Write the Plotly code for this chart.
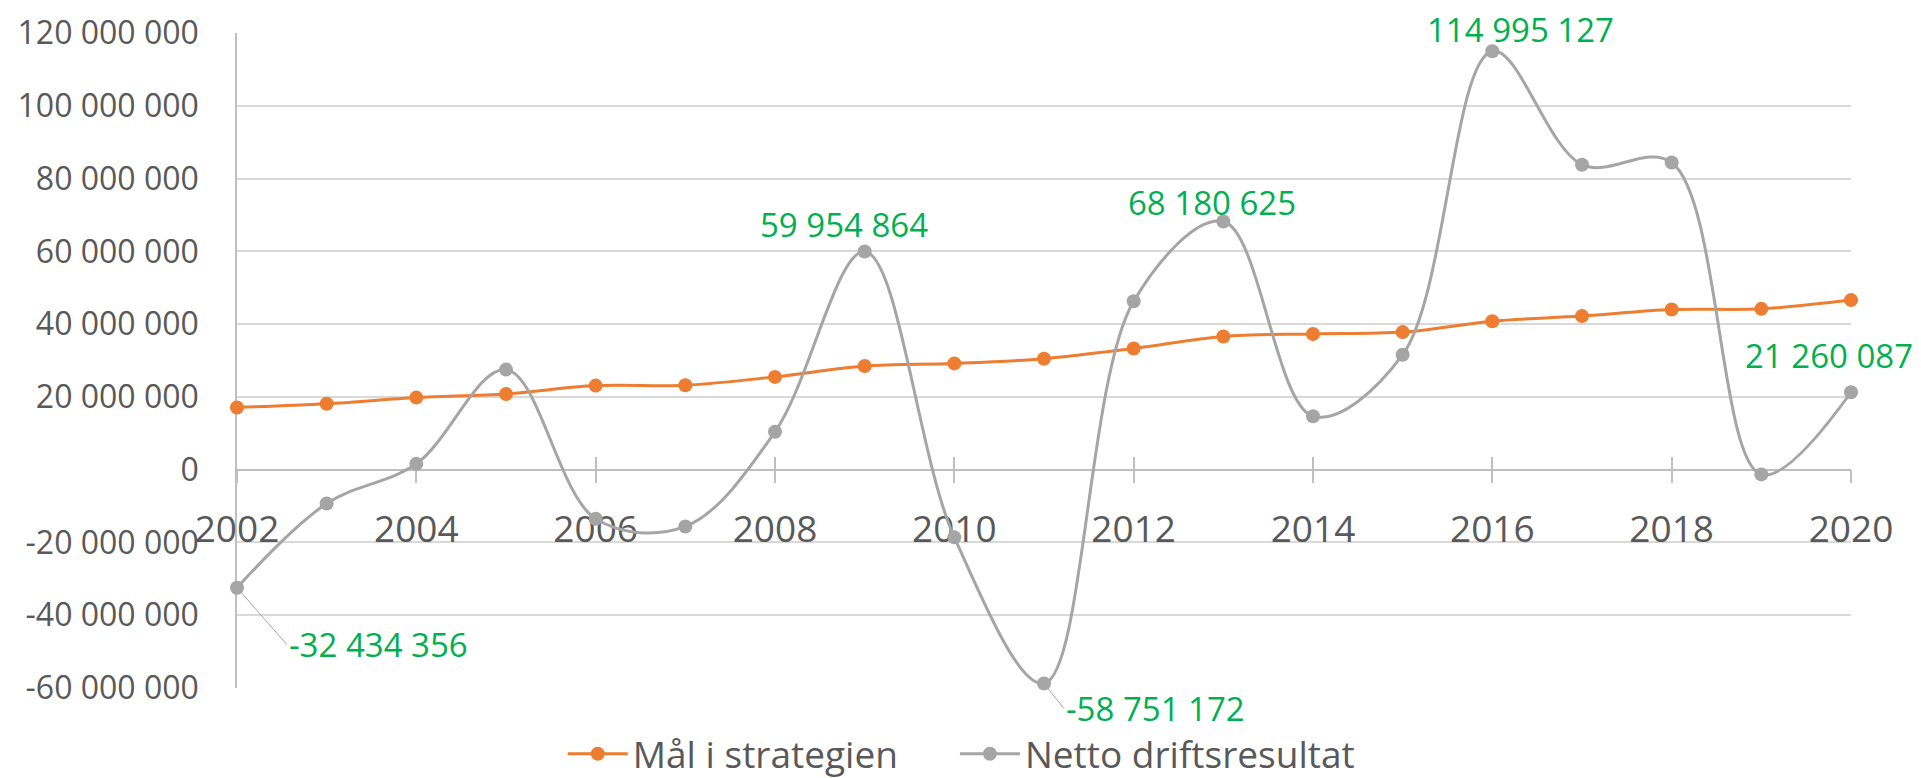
import plotly.graph_objects as go

# Years on the horizontal axis
years = list(range(2002, 2021))

# "Mål i strategien" (target in the strategy), NOK
maal_i_strategien = [
    17_100_000, 18_100_000, 19_800_000, 20_800_000, 23_100_000, 23_200_000,
    25_500_000, 28_500_000, 29_200_000, 30_500_000, 33_300_000, 36_600_000,
    37_300_000, 37_800_000, 40_800_000, 42_200_000, 44_000_000, 44_200_000,
    46_600_000,
]

# "Netto driftsresultat" (net operating result), NOK
netto_driftsresultat = [
    -32_434_356, -9_300_000, 1_600_000, 27_500_000, -13_500_000, -15_600_000,
    10_400_000, 59_954_864, -18_600_000, -58_751_172, 46_300_000, 68_180_625,
    14_700_000, 31_600_000, 114_995_127, 83_800_000, 84_400_000, -1_300_000,
    21_260_087,
]

# Axis ticks
y_ticks = [-60_000_000, -40_000_000, -20_000_000, 0, 20_000_000, 40_000_000,
           60_000_000, 80_000_000, 100_000_000, 120_000_000]
x_ticks = list(range(2002, 2021, 2))

# Which years of the net result get a green data label
labelled_years = [2002, 2009, 2011, 2013, 2016, 2020]

FONT = "Open Sans"
TEXT_GREY = "#595959"
ORANGE = "#ED7D31"
GREY = "#A5A5A5"
GREEN = "#00B050"


def fmt(v):
    # Norwegian style thousands separator (space)
    return f"{v:,}".replace(",", " ")


fig = go.Figure()

fig.add_trace(go.Scatter(
    x=years, y=maal_i_strategien, name="Mål i strategien",
    mode="lines+markers",
    line=dict(color=ORANGE, width=3, shape="spline", smoothing=1),
    marker=dict(color=ORANGE, size=14),
    cliponaxis=False, legend="legend",
))
fig.add_trace(go.Scatter(
    x=years, y=netto_driftsresultat, name="Netto driftsresultat",
    mode="lines+markers",
    line=dict(color=GREY, width=3, shape="spline", smoothing=1),
    marker=dict(color=GREY, size=14),
    cliponaxis=False, legend="legend2",
))

# label placement (pixel offsets from the point), leader line for some
label_style = {
    2002: dict(showarrow=True, ax=50, ay=57, xanchor="left"),
    2009: dict(showarrow=False, xshift=-21, yshift=27),
    2011: dict(showarrow=True, ax=20, ay=25, xanchor="left"),
    2013: dict(showarrow=False, xshift=-11, yshift=19),
    2016: dict(showarrow=False, xshift=28, yshift=22),
    2020: dict(showarrow=False, xshift=-22, yshift=37),
}
annotations = []
for yr in labelled_years:
    v = netto_driftsresultat[years.index(yr)]
    a = dict(x=yr, y=v, xref="x", yref="y", text=fmt(v),
             font=dict(family=FONT, size=33, color=GREEN),
             arrowhead=0, arrowwidth=1, arrowcolor=GREY, standoff=0)
    a.update(label_style[yr])
    annotations.append(a)

legend_common = dict(
    orientation="h", xref="container", yref="container",
    xanchor="left", y=0.031, yanchor="middle",
    font=dict(family=FONT, size=37, color=TEXT_GREY),
    bgcolor="rgba(0,0,0,0)", itemwidth=60,
)

# page has an 8px body margin, so the figure is 8px smaller than the window
fig.update_layout(
    width=1913, height=770,
    paper_bgcolor="white", plot_bgcolor="white",
    margin=dict(l=229, r=70, t=25, b=90, autoexpand=False),
    font=dict(family=FONT, color=TEXT_GREY),
    showlegend=True,
    legend=dict(x=0.290, **legend_common),
    legend2=dict(x=0.495, **legend_common),
    annotations=annotations,
    xaxis=dict(
        range=[2002, 2020], anchor="free", position=1/3,
        tickvals=x_ticks, ticktext=[str(t) for t in x_ticks],
        ticks="outside", ticklen=13, tickwidth=1.5, tickcolor="#BFBFBF",
        tickfont=dict(family=FONT, size=37, color=TEXT_GREY),
        ticklabelstandoff=14,
        showline=True, linecolor="#BFBFBF", linewidth=1.5,
        showgrid=False, zeroline=False, layer="below traces",
    ),
    xaxis2=dict(
        range=[2002, 2020], anchor="free", position=1/3, overlaying="x",
        tickvals=x_ticks, ticks="inside", ticklen=13, tickwidth=1.5,
        tickcolor="#BFBFBF", showticklabels=False,
        showline=False, showgrid=False, zeroline=False, layer="below traces",
    ),
    yaxis=dict(
        range=[-60_000_000, 120_000_000],
        tickvals=y_ticks, ticktext=[fmt(t) for t in y_ticks],
        tickfont=dict(family=FONT, size=32, color=TEXT_GREY),
        ticklabelstandoff=30,
        showgrid=True, gridcolor="#D9D9D9", gridwidth=1.5,
        showline=True, linecolor="#BFBFBF", linewidth=1.5,
        zeroline=False, layer="below traces",
    ),
)

# invisible trace so that xaxis2 gets drawn
fig.add_trace(go.Scatter(x=[2002, 2020], y=[0, 0], xaxis="x2", mode="none",
                         showlegend=False, hoverinfo="skip"))

fig.write_html("out.html")
